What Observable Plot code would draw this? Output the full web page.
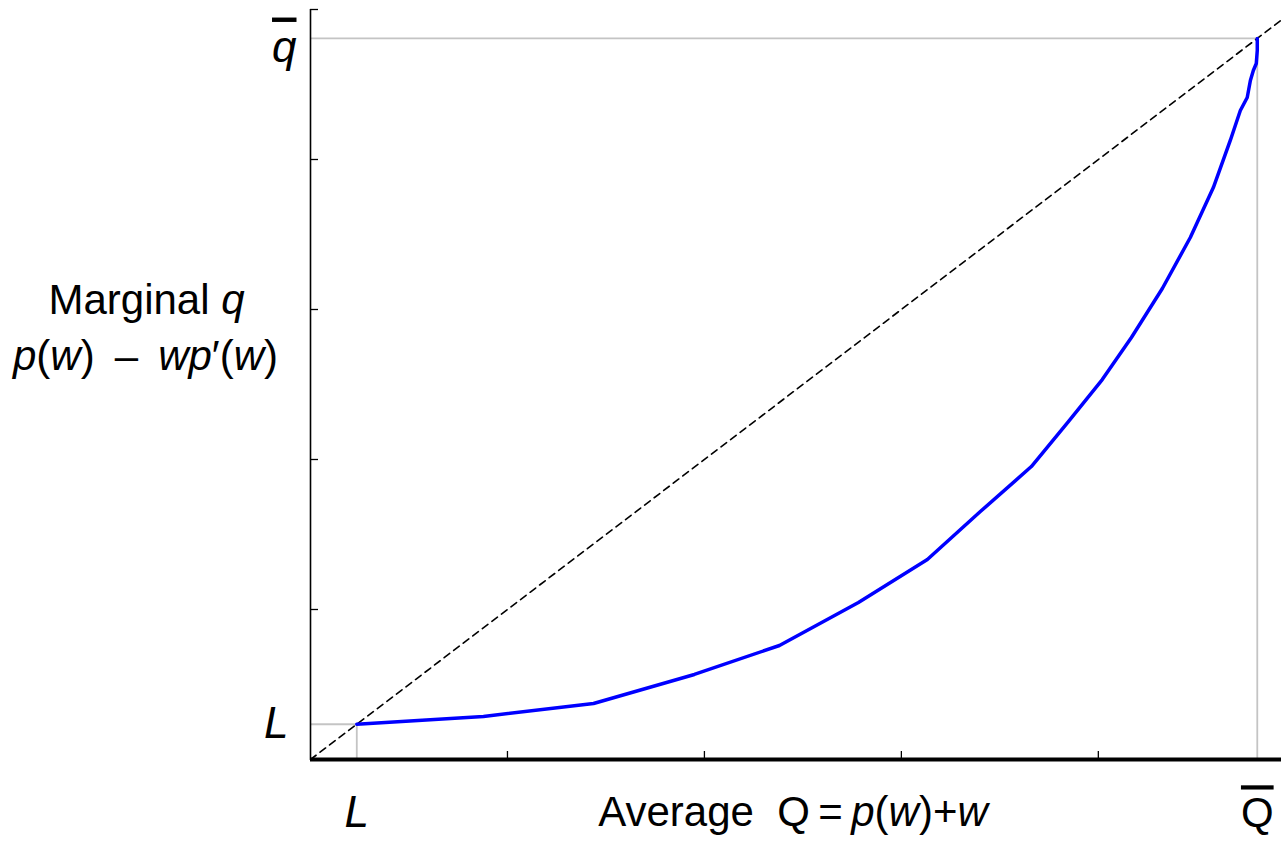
<!DOCTYPE html>
<html>
<head>
<meta charset="utf-8">
<script src="https://cdn.jsdelivr.net/npm/d3@7"></script>
<script src="https://cdn.jsdelivr.net/npm/@observablehq/plot@0.6"></script>
<style>
  body { margin: 0; background: #fff; }
  #chart svg { display: block; }
</style>
</head>
<body>
<div id="chart"></div>
<script>
// Lower bound L and upper bounds Q̄ (average) and q̄ (marginal)
const L = 0.235;
const Qbar = 4.807;
const qbar = 4.807;

// Axis extents
const xEnd = 4.93;
const yEnd = 5;

// Unlabelled tick positions
const xTicks = [1, 2, 3, 4];
const yTicks = [1, 2, 3, 4, 5];

// Average Q = p(w) + w  versus  marginal q = p(w) − w p′(w)
const averageQ = [L, 0.878, 1.437, 1.949, 2.381, 2.782, 3.132, 3.401, 3.66, 3.848, 4.02, 4.168,
                  4.325, 4.467, 4.584, 4.67, 4.721, 4.756, 4.772, 4.787, 4.802, 4.807, Qbar];
const marginalQ = [L, 0.287, 0.373, 0.567, 0.76, 1.047, 1.333, 1.653, 1.953, 2.253, 2.533, 2.813,
                   3.14, 3.48, 3.813, 4.127, 4.327, 4.413, 4.527, 4.593, 4.64, 4.727, qbar];

// 45° reference line endpoints
const diagonal = [0, xEnd];

// Axis titles (*…* marks italic runs)
const yTitle1 = "Marginal *q*";
const yTitle2 = "*p*(*w*) \u2009–\u2009 *wp*\u2032(*w*)";
const xTitle = "Average\u00a0\u00a0Q\u2009=\u2009*p*(*w*)+*w*";

const curve = averageQ.map((x, i) => ({x, y: marginalQ[i]}));

const font = "'Liberation Sans', Arial, Helvetica, sans-serif";
const grey = "#c4c4c4";

const chart = Plot.plot({
  width: 1281,
  height: 855,
  marginLeft: 310,
  marginRight: 0,
  marginTop: 9,
  marginBottom: 96,
  x: {domain: [0, xEnd], axis: null},
  y: {domain: [0, yEnd], axis: null},
  style: {fontFamily: font, background: "#fff", color: "#000", overflow: "hidden"},
  marks: [
    // bounding guides at Q̄, q̄ and at L
    Plot.ruleX([Qbar], {y1: 0, y2: qbar, stroke: grey, strokeWidth: 1.8}),
    Plot.ruleY([qbar], {x1: 0, x2: Qbar, stroke: grey, strokeWidth: 1.8}),
    Plot.ruleX([L], {y1: 0, y2: L, stroke: grey, strokeWidth: 1.8}),
    Plot.ruleY([L], {x1: 0, x2: L, stroke: grey, strokeWidth: 1.8}),
    // 45° line
    Plot.line(diagonal, {x: d => d, y: d => d, stroke: "#000", strokeWidth: 1.6, strokeDasharray: "7,5"}),
    // marginal vs average curve
    Plot.line(curve, {x: "x", y: "y", stroke: "#0000ff", strokeWidth: 3.5, curve: "linear"}),
    // axis lines
    Plot.ruleX([0], {stroke: "#000", strokeWidth: 1.6}),
    Plot.ruleY([0], {stroke: "#000", strokeWidth: 4}),
    // inward ticks
    Plot.axisX(xTicks, {anchor: "bottom", tickSize: -8, tickFormat: () => "", label: null, strokeWidth: 1.3}),
    Plot.axisY(yTicks, {anchor: "left", tickSize: -8, tickFormat: () => "", label: null, strokeWidth: 1.3}),
    // tick labels
    Plot.axisX([L], {anchor: "bottom", tickSize: 0, tickPadding: 36, tickFormat: () => "L",
      label: null, fontSize: 44, fontStyle: "italic"}),
    Plot.axisX([Qbar], {anchor: "bottom", tickSize: 0, tickPadding: 38, tickFormat: () => "Q",
      label: null, fontSize: 42, ariaDescription: "overline"}),
    Plot.axisY([L], {anchor: "left", tickSize: 0, tickPadding: 22, tickFormat: () => "L",
      label: null, fontSize: 44, fontStyle: "italic"}),
    Plot.axisY([qbar], {anchor: "left", tickSize: 0, tickPadding: 14, tickFormat: () => "q",
      label: null, fontSize: 44, fontStyle: "italic", dy: 9, ariaDescription: "overline"}),
    // axis titles
    Plot.text([yTitle1], {frameAnchor: "left", dx: -164, dy: -84, fontSize: 42,
      textAnchor: "middle", ariaDescription: "rich"}),
    Plot.text([yTitle2], {frameAnchor: "left", dx: -165, dy: -28, fontSize: 42,
      textAnchor: "middle", ariaDescription: "rich"}),
    Plot.text([xTitle], {frameAnchor: "bottom", dx: -3, dy: 66, fontSize: 42,
      textAnchor: "middle", ariaDescription: "rich"})
  ]
});

// Overlined symbols (Q̄, q̄)
d3.select(chart).selectAll('g[aria-description="overline"] text')
  .style("text-decoration", "overline");

// Split *…* runs into italic tspans
d3.select(chart).selectAll('g[aria-description="rich"] text').each(function() {
  const el = d3.select(this);
  const parts = el.text().split("*");
  el.text(null).attr("xml:space", "preserve");
  parts.forEach((p, i) => {
    if (!p) return;
    el.append("tspan").text(p).attr("font-style", i % 2 ? "italic" : "normal");
  });
});

document.getElementById("chart").append(chart);
</script>
</body>
</html>
